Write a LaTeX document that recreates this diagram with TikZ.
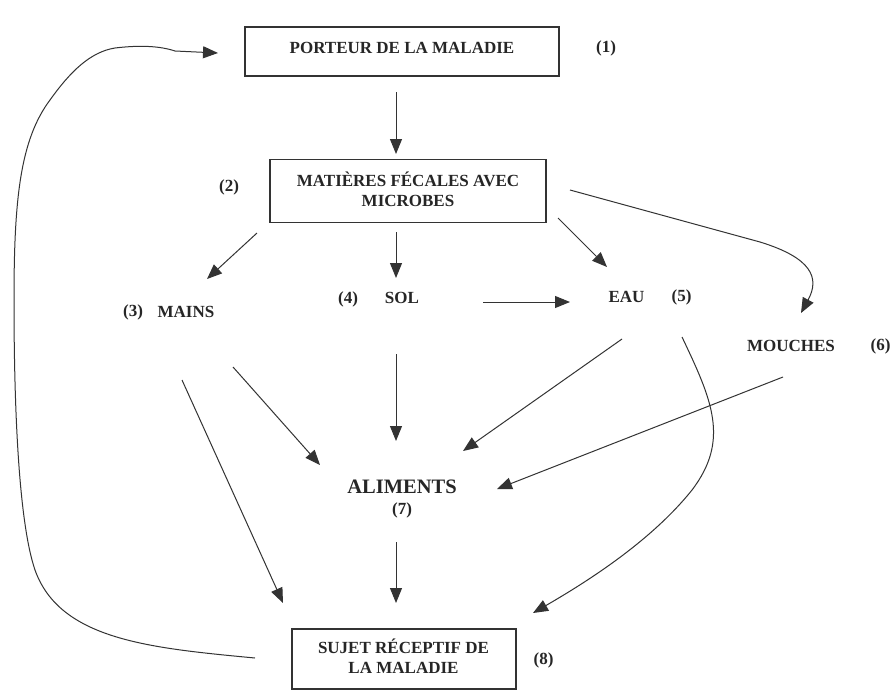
\documentclass[tikz,border=0pt]{standalone}
\usepackage{fontspec}
\setmainfont{Liberation Serif}
\usetikzlibrary{arrows.meta}
\begin{document}
\begin{tikzpicture}[x=1pt,y=-1pt,
  lbl/.style={font=\fontsize{17}{20.4}\selectfont\bfseries, inner sep=0pt, anchor=base, text=black!85},
  big/.style={lbl, font=\fontsize{20.5}{24}\selectfont\bfseries},
  boxst/.style={draw=black!80, line width=1.4pt, inner sep=0pt},
  arr/.style={draw=black!80, line width=1pt, -{Triangle[length=15pt,width=12pt]}},
]
\useasboundingbox[fill=white] (0,0) rectangle (893,691);

% boxes
\node[boxst, minimum width=314pt, minimum height=49pt] (porteur) at (402,51.5) {};
\node[boxst, minimum width=276pt, minimum height=63pt] (matieres) at (408,191) {};
\node[boxst, minimum width=224pt, minimum height=60pt] (sujet) at (404,659) {};

% texts
\node[lbl] (porteurT) at (402,53) {PORTEUR DE LA MALADIE};
\node[lbl] (n1) at (606,52) {(1)};
\node[lbl] (matT1) at (408,186) {MATIÈRES FÉCALES AVEC};
\node[lbl] (matT2) at (408,206) {MICROBES};
\node[lbl] (n2) at (229,191) {(2)};
\node[lbl] (n3) at (133,316) {(3)};
\node[lbl] (mains) at (186,317) {MAINS};
\node[lbl] (n4) at (348,303) {(4)};
\node[lbl] (sol) at (402,303) {SOL};
\node[lbl] (eau) at (626.5,302) {EAU};
\node[lbl] (n5) at (681.5,301) {(5)};
\node[lbl] (mouches) at (791,351) {MOUCHES};
\node[lbl] (n6) at (880.5,350) {(6)};
\node[big] (aliments) at (402,493) {ALIMENTS};
\node[lbl] (n7) at (402,514) {(7)};
\node[lbl] (sujT1) at (403.5,653) {SUJET RÉCEPTIF DE};
\node[lbl] (sujT2) at (403.5,673) {LA MALADIE};
\node[lbl] (n8) at (543.5,664) {(8)};

% connector end points
\coordinate (a1s) at (396,92);   \coordinate (a1e) at (396,154);
\coordinate (a2s) at (257,233);  \coordinate (a2e) at (207,279);
\coordinate (a3s) at (396,232);  \coordinate (a3e) at (396,278);
\coordinate (a4s) at (483,302);  \coordinate (a4e) at (570,302);
\coordinate (a5s) at (558,218);  \coordinate (a5e) at (607,267);
\coordinate (a6s) at (570,190);  \coordinate (a6e) at (801,313);
\coordinate (a7s) at (233,367);  \coordinate (a7e) at (320,465);
\coordinate (a8s) at (182,380);  \coordinate (a8e) at (283,603);
\coordinate (a9s) at (396,354);  \coordinate (a9e) at (396,441);
\coordinate (a10s) at (622,339); \coordinate (a10e) at (463,451);
\coordinate (a11s) at (682,337); \coordinate (a11e) at (533,613);
\coordinate (a12s) at (783,377); \coordinate (a12e) at (497,489);
\coordinate (a13s) at (396,542); \coordinate (a13e) at (396,603);
\coordinate (a14s) at (255,658); \coordinate (a14e) at (218,53);

% connectors
\draw[arr] (a1s) -- (a1e);
\draw[arr] (a2s) -- (a2e);
\draw[arr] (a3s) -- (a3e);
\draw[arr] (a4s) -- (a4e);
\draw[arr] (a5s) -- (a5e);
\draw[arr] (a6s) -- (760,242) .. controls (812,258) and (820,278) .. (a6e);
\draw[arr] (a7s) -- (a7e);
\draw[arr] (a8s) -- (a8e);
\draw[arr] (a9s) -- (a9e);
\draw[arr] (a10s) -- (a10e);
\draw[arr] (a11s) .. controls (712,400) and (730,440) .. (692,490) .. controls (652,540) and (590,580) .. (a11e);
\draw[arr] (a12s) -- (a12e);
\draw[arr] (a13s) -- (a13e);
\draw[arr] (a14s) .. controls (150,648) and (60,640) .. (35,570) .. controls (18,520) and (14,400) .. (14,300) .. controls (14,200) and (20,140) .. (50,100) .. controls (70,72) and (90,52) .. (115,48) .. controls (140,45) and (160,46) .. (175,51) -- (a14e);
\end{tikzpicture}
\end{document}
